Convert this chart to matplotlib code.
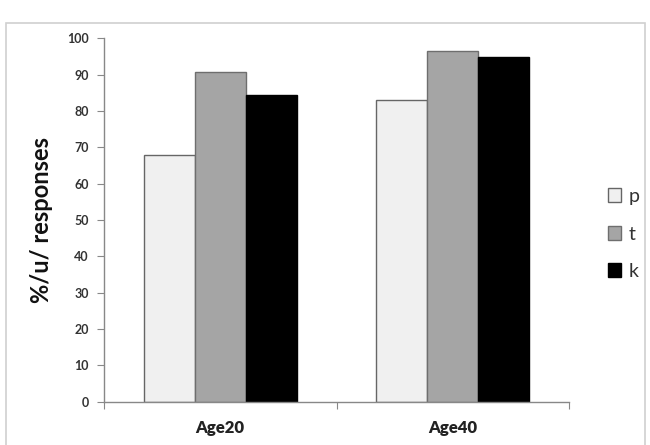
import numpy as np
import matplotlib
matplotlib.use("Agg")
import matplotlib.pyplot as plt
from matplotlib.patches import Rectangle

plt.rcParams['font.family'] = ['Lato', 'DejaVu Sans']

# data
groups = ["Age20", "Age40"]
series = ["p", "t", "k"]
p_vals = [67.9, 83.0]
t_vals = [90.7, 96.5]
k_vals = [84.5, 94.9]

fills = {"p": "#f0f0f0", "t": "#a5a5a5", "k": "#000000"}
edges = {"p": "#666666", "t": "#6e6e6e", "k": "#000000"}

fig = plt.figure(figsize=(6.5, 4.45), dpi=100)
# outer chart frame
fig.patches.append(Rectangle((6 / 650, -0.05), 639 / 650, 1.05 - 23 / 445,
                             transform=fig.transFigure, fill=False,
                             edgecolor="#d0d0d0", linewidth=1.2))

ax = fig.add_axes([104 / 650, 1 - 401.7 / 445, 465 / 650, (401.7 - 38.3) / 445])

x = np.arange(len(groups)) + 0.5
w = 0.22
for i, (name, vals) in enumerate(zip(series, [p_vals, t_vals, k_vals])):
    ax.bar(x + (i - 1) * w, vals, width=w, color=fills[name],
           edgecolor=edges[name], linewidth=1.0, label=name)

ax.set_xlim(0, 2)
ax.set_ylim(0, 100)
ax.set_yticks(np.arange(0, 101, 10))
ax.set_xticks([0, 1, 2], minor=False)
ax.set_xticklabels([])
ax.set_xticks(x, minor=True)
ax.set_xticklabels(groups, minor=True, fontsize=12, fontweight="heavy", color="#222222")
ax.tick_params(axis="x", which="minor", length=0, pad=13)
ax.tick_params(axis="x", which="major", length=5, color="#888888")
ax.tick_params(axis="y", length=5, color="#888888", labelsize=9, labelcolor="#333333", pad=6)
for lab in ax.get_yticklabels():
    lab.set_fontweight("bold")

for s in ["top", "right"]:
    ax.spines[s].set_visible(False)
for s in ["left", "bottom"]:
    ax.spines[s].set_color("#888888")
    ax.spines[s].set_linewidth(1.0)

ax.set_ylabel("%/u/ responses", fontsize=17, fontweight="bold", color="#111111", labelpad=10)

handles, labels = ax.get_legend_handles_labels()
fig.legend(handles, labels, loc="center left", bbox_to_anchor=(590 / 650, 1 - 234 / 445),
           frameon=False, fontsize=14, handlelength=0.7, handleheight=0.7,
           handletextpad=0.4, labelspacing=1.05, labelcolor="#333333")

fig.savefig("out.png", dpi=100)
